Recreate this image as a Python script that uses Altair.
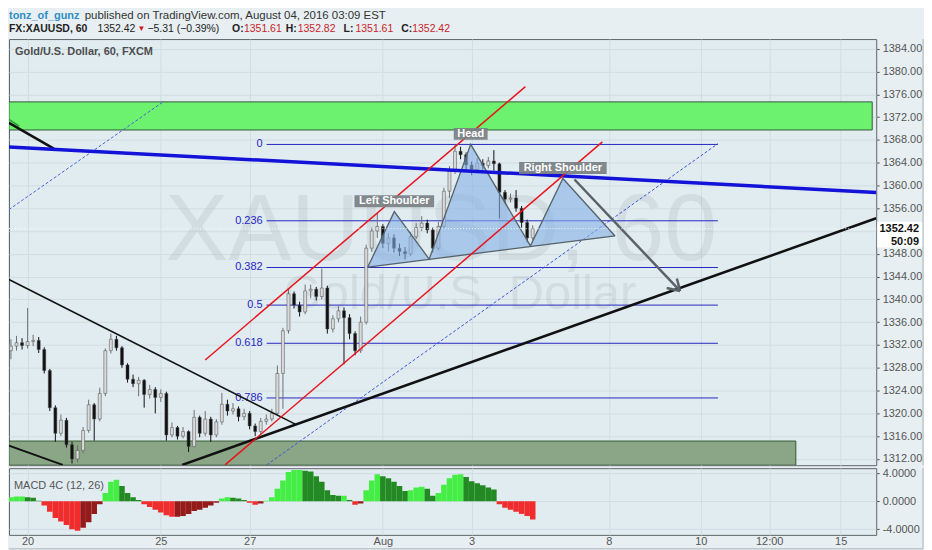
import altair as alt
import pandas as pd

# ---------------- data ----------------
# x unit: trading days since Jul 20; one candle = 3 h = 1/8 day
bar_k = list(range(-3, 92))
first_open = 1331.0
close = [
    1331.8, 1332.4, 1331.9, 1332.6, 1332.8, 1331.2, 1327.5, 1321.0, 1316.5, 1318.8,
    1314.5, 1312.0, 1313.5, 1317.0, 1321.5, 1319.0, 1323.5, 1331.0, 1333.0, 1331.5,
    1328.5, 1326.0, 1325.2, 1325.8, 1323.3, 1324.2, 1322.8, 1323.5, 1316.2, 1317.5,
    1316.0, 1316.8, 1314.2, 1319.3, 1316.5, 1319.0, 1316.2, 1318.5, 1321.6, 1320.4,
    1320.8, 1319.4, 1320.0, 1317.8, 1316.8, 1318.6, 1319.0, 1320.0, 1327.0, 1334.5,
    1341.0, 1339.0, 1337.8, 1341.5, 1341.8, 1340.5, 1342.0, 1334.8, 1336.6, 1338.0,
    1336.8, 1334.0, 1331.0, 1336.0, 1349.0, 1352.0, 1352.8, 1349.8, 1350.8, 1349.0,
    1348.4, 1348.0, 1351.0, 1352.6, 1353.4, 1352.2, 1349.0, 1352.8, 1359.0, 1362.5,
    1366.0, 1365.4, 1363.6, 1362.8, 1363.9, 1363.5, 1364.3, 1363.8, 1358.8, 1357.6,
    1357.8, 1356.0, 1353.5, 1350.8, 1352.42,
]
high = [
    1333.0, 1333.6, 1333.2, 1338.5, 1333.8, 1333.4, 1331.6, 1327.8, 1321.4, 1319.8,
    1319.2, 1315.0, 1314.4, 1317.6, 1322.4, 1321.8, 1324.5, 1331.4, 1334.0, 1333.6,
    1331.8, 1328.8, 1326.8, 1326.4, 1326.0, 1325.0, 1324.6, 1324.2, 1323.8, 1318.4,
    1317.8, 1317.6, 1317.0, 1320.6, 1319.6, 1320.4, 1319.4, 1319.0, 1323.6, 1322.4,
    1321.8, 1321.2, 1320.8, 1320.4, 1318.2, 1319.2, 1319.8, 1320.8, 1328.4, 1335.0,
    1342.0, 1341.4, 1339.6, 1342.6, 1342.6, 1342.2, 1345.4, 1342.4, 1337.2, 1338.8,
    1338.6, 1337.4, 1334.4, 1337.0, 1349.6, 1352.6, 1355.2, 1353.2, 1351.6, 1351.4,
    1349.8, 1349.2, 1351.8, 1353.4, 1354.6, 1354.0, 1352.6, 1353.6, 1359.6, 1363.4,
    1367.2, 1366.8, 1365.8, 1364.2, 1364.8, 1364.6, 1365.0, 1366.2, 1364.0, 1359.2,
    1358.6, 1359.2, 1356.4, 1354.0, 1353.0,
]
low = [
    1329.5, 1331.0, 1331.2, 1331.4, 1331.8, 1330.6, 1327.0, 1320.4, 1315.0, 1316.0,
    1314.0, 1311.2, 1311.4, 1313.0, 1316.6, 1315.2, 1318.6, 1323.0, 1330.5, 1331.0,
    1328.0, 1325.4, 1324.6, 1323.0, 1321.0, 1322.6, 1320.0, 1322.0, 1315.2, 1315.8,
    1315.4, 1315.6, 1313.2, 1314.0, 1315.8, 1316.0, 1315.0, 1315.8, 1318.0, 1319.6,
    1319.8, 1318.6, 1318.8, 1317.2, 1316.0, 1316.4, 1318.0, 1318.6, 1319.6, 1320.8,
    1334.0, 1338.4, 1337.0, 1337.4, 1340.2, 1339.8, 1340.0, 1334.0, 1334.2, 1336.0,
    1328.6, 1333.0, 1330.2, 1330.6, 1335.6, 1348.4, 1350.8, 1349.0, 1348.4, 1348.2,
    1347.6, 1347.0, 1347.6, 1350.6, 1352.0, 1351.6, 1348.2, 1348.6, 1352.4, 1357.8,
    1362.0, 1364.6, 1362.4, 1361.8, 1362.4, 1362.8, 1363.0, 1362.6, 1354.2, 1356.8,
    1357.0, 1355.4, 1352.6, 1350.0, 1350.4,
]
macd = [
    0.6, 0.7, 0.7, 0.6, 0.5, 0.1, -0.6, -1.5, -2.4, -2.9,
    -3.4, -4.0, -4.2, -3.8, -3.0, -1.8, -0.4, 1.2, 2.8, 3.1,
    2.2, 1.2, 0.6, 0.2, -0.4, -0.8, -1.2, -1.6, -2.0, -2.2,
    -2.2, -2.1, -1.8, -1.4, -1.2, -0.9, -0.6, -0.2, 0.4, 0.6,
    0.5, 0.4, 0.2, -0.2, -0.5, -0.3, 0.1, 0.6, 1.8, 3.0,
    4.2, 4.5, 4.5, 4.4, 4.3, 3.6, 2.8, 1.6, 0.9, 0.8,
    0.8, 0.2, -0.5, -0.3, 1.6, 3.0, 3.9, 3.6, 3.3, 2.8,
    2.2, 1.5, 1.6, 2.0, 2.1, 1.8, 0.8, 1.2, 2.4, 3.3,
    3.8, 3.9, 3.5, 2.9, 2.6, 2.3, 2.0, 1.7, -0.4, -0.9,
    -1.2, -1.5, -1.8, -2.1, -2.6,
]

tick_days = [0, 3, 5, 8, 10, 13.09, 15.16, 16.70, 18.31]
tick_labels = ["20", "25", "27", "Aug", "3", "8", "10", "12:00", "15"]
price_ticks = list(range(1312, 1385, 4))
macd_ticks = [-4, 0, 4]

fib_ratio = ["0", "0.236", "0.382", "0.5", "0.618", "0.786"]
fib_price = [1367.2, 1353.8, 1345.6, 1339.0, 1332.3, 1322.7]
fib_span = (5.381, 15.545)

hs_t = [7.659, 8.258, 9.043, 9.978, 11.323, 12.054, 13.229]
hs_price = [1345.67, 1355.41, 1347.07, 1367.22, 1349.40, 1361.23, 1351.14]
hs_neck = [1345.67, 1346.26, 1347.03, 1347.95, 1349.27, 1349.99, 1351.14]
hs_names = ["", "Left Shoulder", "", "Head", "", "Right Shoulder", ""]

zone_supply = (-0.42, 19.02, 1369.74, 1374.67)
zone_demand = (-0.42, 17.30, 1310.9, 1315.14)

blue_trend = [(-0.42, 1366.76), (19.11, 1358.78)]
red_upper = [(4.0, 1329.37), (11.21, 1377.36)]
red_lower = [(4.446, 1310.95), (12.944, 1367.64)]
black_rise = [(3.482, 1310.95), (19.11, 1354.24)]
black_fall = [(-0.42, 1343.49), (6.038, 1318.06)]
black_low = [(-0.42, 1314.33), (0.791, 1310.95)]
black_top = [(-0.42, 1371.0), (0.59, 1366.47)]
green_top = [(-0.42, 1371.6), (-0.19, 1370.4)]
dash_1 = [(-0.42, 1355.77), (3.056, 1374.69)]
dash_2 = [(5.385, 1310.95), (15.545, 1367.34)]
arrow_shaft = [(12.316, 1361.05), (14.693, 1341.48)]
arrow_barb1 = [(14.392, 1341.99), (14.693, 1341.48)]
arrow_barb2 = [(14.621, 1343.67), (14.693, 1341.48)]
last_price = 1352.42

header_line1 = [("tonz_of_gunz", "#2e8ec4", "bold"),
                ("published on TradingView.com, August 04, 2016 03:09 EST", "#333333", "normal")]
header_line2 = [("FX:XAUUSD, 60", "#222222", "bold"), ("1352.42", "#222222", "normal"),
                ("\u25BC", "#d01818", "normal"), ("\u22125.31 (\u22120.39%)", "#222222", "normal"),
                ("O:", "#222222", "bold"), ("1351.61", "#c8232c", "normal"),
                ("H:", "#222222", "bold"), ("1352.82", "#c8232c", "normal"),
                ("L:", "#222222", "bold"), ("1351.61", "#c8232c", "normal"),
                ("C:", "#222222", "bold"), ("1352.42", "#c8232c", "normal")]
header_x1 = [0, 76]
header_x2 = [0, 89, 129, 139, 224, 236, 278, 290, 336, 348, 394, 405]

# ---------------- styles ----------------
FONT = "Liberation Sans"
BG = "#e8eff2"
PLOT_BG = "#e1ecf1"
GRID = "#d1dde3"
FRAME = "#5f6669"
FIB = "#2626c4"
W, H_HEAD, H_MAIN, H_MACD = 871, 27, 428, 67

XS = alt.Scale(domain=[-0.419, 19.11], nice=False, zero=False, padding=0)
YP = alt.Scale(domain=[1310.9, 1385.7], nice=False, zero=False, padding=0)
YM = alt.Scale(domain=[-4.81, 4.76], nice=False, zero=False, padding=0)

ax_main_x = alt.Axis(values=tick_days, labels=False, ticks=False, domain=False,
                     grid=True, gridColor=GRID, title=None)
ax_main_y = alt.Axis(orient="right", values=price_ticks, format=".2f", grid=True,
                     gridColor=GRID, title=None, tickSize=3, labelPadding=3)
label_expr = " : ".join(f"datum.value == {v} ? '{l}'" for v, l in zip(tick_days, tick_labels)) + " : ''"
ax_macd_x = alt.Axis(values=tick_days, labelExpr=label_expr, grid=True, gridColor=GRID,
                     title=None, tickSize=0, labelPadding=1)
ax_macd_y = alt.Axis(orient="right", values=macd_ticks, grid=True, gridColor=GRID, title=None,
                     tickSize=3, labelPadding=3,
                     labelExpr="replace(format(datum.value, '.4f'), '\u2212', '-')")


def xm(f):
    return alt.X(f, type="quantitative", scale=XS, axis=ax_main_x)


def ym(f):
    return alt.Y(f, type="quantitative", scale=YP, axis=ax_main_y)


def xd(f):
    return alt.X(f, type="quantitative", scale=XS, axis=ax_macd_x)


def yd(f):
    return alt.Y(f, type="quantitative", scale=YM, axis=ax_macd_y)


def seg(points, color, width, dash=None, opacity=1.0):
    df = pd.DataFrame(points, columns=["t", "p"])
    kw = dict(color=color, strokeWidth=width, clip=True, opacity=opacity)
    if dash:
        kw["strokeDash"] = dash
    return alt.Chart(df).mark_line(**kw).encode(x=xm("t"), y=ym("p"))


one = pd.DataFrame({"a": [0]})

# ---------------- candles ----------------
opens = [first_open] + close[:-1]
cdf = pd.DataFrame({"t": [k / 8 for k in bar_k], "open": opens, "close": close,
                    "high": high, "low": low})
cdf["up"] = cdf["close"] >= cdf["open"]
cdf["body"] = cdf["up"].map({True: "#d9d9d9", False: "#101010"})
cdf["wick"] = cdf["up"].map({True: "#6f6f6f", False: "#101010"})

wicks = alt.Chart(cdf).mark_rule(strokeWidth=1, clip=True).encode(
    x=xm("t"), y=ym("low"), y2="high", color=alt.Color("wick:N", scale=None))
bodies = alt.Chart(cdf).mark_bar(size=3, stroke="#4a4a4a", strokeWidth=0.5, clip=True).encode(
    x=xm("t"), y=ym("open"), y2="close", fill=alt.Fill("body:N", scale=None))

# ---------------- zones ----------------
zdf = pd.DataFrame([zone_supply, zone_demand], columns=["t1", "t2", "p1", "p2"])
zdf["fill"] = ["#6cf26e", "#8aa686"]
zones = alt.Chart(zdf).mark_rect(stroke="#2f5a33", strokeWidth=1, clip=True).encode(
    x=xm("t1"), x2="t2", y=ym("p1"), y2="p2", fill=alt.Fill("fill:N", scale=None))

# ---------------- fibonacci ----------------
fdf = pd.DataFrame({"lab": fib_ratio, "p": fib_price, "t1": fib_span[0], "t2": fib_span[1]})
fib_lines = alt.Chart(fdf).mark_rule(color=FIB, strokeWidth=1).encode(x=xm("t1"), x2="t2", y=ym("p"))
fib_text = alt.Chart(fdf).mark_text(align="right", baseline="middle", dx=-4, color=FIB,
                                    fontSize=11, font=FONT).encode(x=xm("t1"), y=ym("p"), text="lab:N")

# ---------------- head & shoulders ----------------
hdf = pd.DataFrame({"t": hs_t, "p": hs_price, "neck": hs_neck, "name": hs_names})
hs_fill = alt.Chart(hdf).mark_area(color="#86b1e6", opacity=0.6).encode(x=xm("t"), y=ym("p"), y2="neck")
hs_edge = alt.Chart(hdf).mark_line(color="#56626b", strokeWidth=1.3).encode(x=xm("t"), y=ym("p"))
hs_neckline = seg([(hs_t[0], hs_neck[0]), (hs_t[-1], hs_neck[-1])], "#56626b", 1.3)
ldf = hdf[hdf["name"] != ""].copy()
box_half = {"Left Shoulder": 0.8, "Head": 0.34, "Right Shoulder": 0.88}
ldf["shape"] = [f"M-{box_half[n]},-0.12H{box_half[n]}V0.12H-{box_half[n]}Z" for n in ldf["name"]]
hs_box = alt.Chart(ldf).mark_point(filled=True, size=10000, opacity=0.92, color="#7a8084",
                                   yOffset=-10.5).encode(
    x=xm("t"), y=ym("p"), shape=alt.Shape("shape:N", scale=None))
hs_lab = alt.Chart(ldf).mark_text(dy=-10.5, color="white", fontSize=11, fontWeight="bold",
                                  font=FONT, baseline="middle").encode(x=xm("t"), y=ym("p"), text="name:N")

# ---------------- price line & axis label ----------------
pdf = pd.DataFrame({"p": [last_price], "lab": [f"{last_price:.2f}"], "cd": ["50:09"]})
price_line = alt.Chart(pdf).mark_rule(color="white", strokeDash=[1, 2], strokeWidth=1,
                                      opacity=0.9).encode(y=ym("p"))
price_box = alt.Chart(pdf).mark_point(filled=True, size=2500, opacity=1, color="white",
                                      yOffset=6).encode(
    x=alt.value(895), y=ym("p"), shape=alt.value("M-0.92,-0.52H0.92V0.52H-0.92Z"))
price_txt = alt.Chart(pdf).mark_text(align="right", baseline="middle", color="#111",
                                     fontSize=11, font=FONT, fontWeight="bold").encode(
    x=alt.value(914), y=ym("p"), text="lab:N")
count_txt = alt.Chart(pdf).mark_text(align="right", baseline="middle", dy=13, color="#111",
                                     fontSize=11, font=FONT, fontWeight="bold").encode(
    x=alt.value(914), y=ym("p"), text="cd:N")

# ---------------- watermark & titles ----------------
wm1 = alt.Chart(one).mark_text(text="XAUUSD, 60", fontSize=95, font=FONT, color="#9eabb2",
                               opacity=0.22, align="center", baseline="middle").encode(
    x=alt.value(434), y=alt.value(193))
wm2 = alt.Chart(one).mark_text(text="Gold/U.S. Dollar", fontSize=49, font=FONT, color="#9eabb2",
                               opacity=0.22, align="center", baseline="middle").encode(
    x=alt.value(453), y=alt.value(256))
title_main = alt.Chart(one).mark_text(text="Gold/U.S. Dollar, 60, FXCM", fontSize=11, font=FONT,
                                      fontWeight="bold", color="#4d4d4d", align="left",
                                      baseline="middle").encode(x=alt.value(6), y=alt.value(13))
frame_r = alt.Chart(one).mark_rule(color="#a9b4ba", strokeWidth=1).encode(
    x=alt.value(918), y=alt.value(0), y2=alt.value(H_MAIN))

main = alt.layer(
    zones,
    wm1, wm2,
    fib_lines, fib_text,
    seg(dash_1, "#4a63d6", 1, dash=[3, 2]),
    seg(dash_2, "#3c55d8", 1, dash=[3, 2]),
    wicks, bodies,
    hs_fill, hs_edge, hs_neckline,
    seg(green_top, "#2d9a3a", 1.5),
    seg(black_top, "#111111", 2.5),
    seg(black_fall, "#111111", 1.5),
    seg(black_low, "#111111", 2),
    seg(black_rise, "#111111", 2.5),
    seg(blue_trend, "#1212d8", 3.5),
    seg(red_upper, "#e8141c", 1.5),
    seg(red_lower, "#e8141c", 1.5),
    seg(arrow_shaft, "#596267", 2.5),
    seg(arrow_barb1, "#596267", 2.5),
    seg(arrow_barb2, "#596267", 2.5),
    price_line,
    hs_box, hs_lab,
    title_main,
    price_box, price_txt, count_txt,
    frame_r,
).properties(width=W, height=H_MAIN, view=alt.ViewBackground(fill=PLOT_BG, stroke=FRAME))

# ---------------- MACD ----------------
colors = []
for i, v in enumerate(macd):
    prev = macd[i - 1] if i > 0 else v
    if v >= 0:
        colors.append("#45ee45" if v >= prev else "#238a23")
    else:
        colors.append("#f02c2c" if v < prev else "#951a1a")
mdf = pd.DataFrame({"t": [k / 8 for k in bar_k], "val": macd, "c": colors})
mdf["x0"] = mdf["t"] - 1 / 16
mdf["x1"] = mdf["t"] + 1 / 16
mdf["zero"] = 0.0
macd_bars = alt.Chart(mdf).mark_bar(clip=True).encode(
    x=xd("x0"), x2="x1", y=yd("zero"), y2="val", color=alt.Color("c:N", scale=None))
macd_lab = alt.Chart(one).mark_text(text="MACD 4C (12, 26)", fontSize=11, font=FONT, color="#555",
                                    align="left", baseline="middle").encode(x=alt.value(5), y=alt.value(18))
frame_r2 = alt.Chart(one).mark_rule(color="#a9b4ba", strokeWidth=1).encode(
    x=alt.value(918), y=alt.value(0), y2=alt.value(81))
frame_b = alt.Chart(one).mark_rule(color="#a9b4ba", strokeWidth=1).encode(
    y=alt.value(81), x=alt.value(0), x2=alt.value(918))
macd_chart = alt.layer(macd_bars, macd_lab, frame_r2, frame_b).properties(
    width=W, height=H_MACD, view=alt.ViewBackground(fill=PLOT_BG, stroke=FRAME))

# ---------------- header ----------------
rows = []
for (txt, col, wt), x in zip(header_line1, header_x1):
    rows.append({"text": txt, "color": col, "weight": wt, "x": x, "y": 6,
                 "size": 11.5 if wt == "normal" else 11})
for (txt, col, wt), x in zip(header_line2, header_x2):
    rows.append({"text": txt, "color": col, "weight": wt, "x": x, "y": 19,
                 "size": 8 if txt == "\u25BC" else 10.5})
hd = pd.DataFrame(rows)


def head_layer(weight):
    return alt.Chart(hd[hd["weight"] == weight]).mark_text(
        align="left", baseline="middle", font=FONT, fontWeight=weight).encode(
        x=alt.X("x:Q", scale=None, axis=None), y=alt.Y("y:Q", scale=None, axis=None),
        text="text:N", color=alt.Color("color:N", scale=None), size=alt.Size("size:Q", scale=None))


header = alt.layer(head_layer("normal"), head_layer("bold")).properties(
    width=W, height=H_HEAD, view=alt.ViewBackground(stroke="transparent"))

chart = alt.vconcat(header, main, macd_chart, spacing=0, padding=0).configure(
    background=BG
).configure_axis(labelFont=FONT, labelFontSize=11, labelColor="#555555", tickColor="#555555",
                 domain=False)

chart.save("out.html", embed_options={"renderer": "svg", "actions": False})
